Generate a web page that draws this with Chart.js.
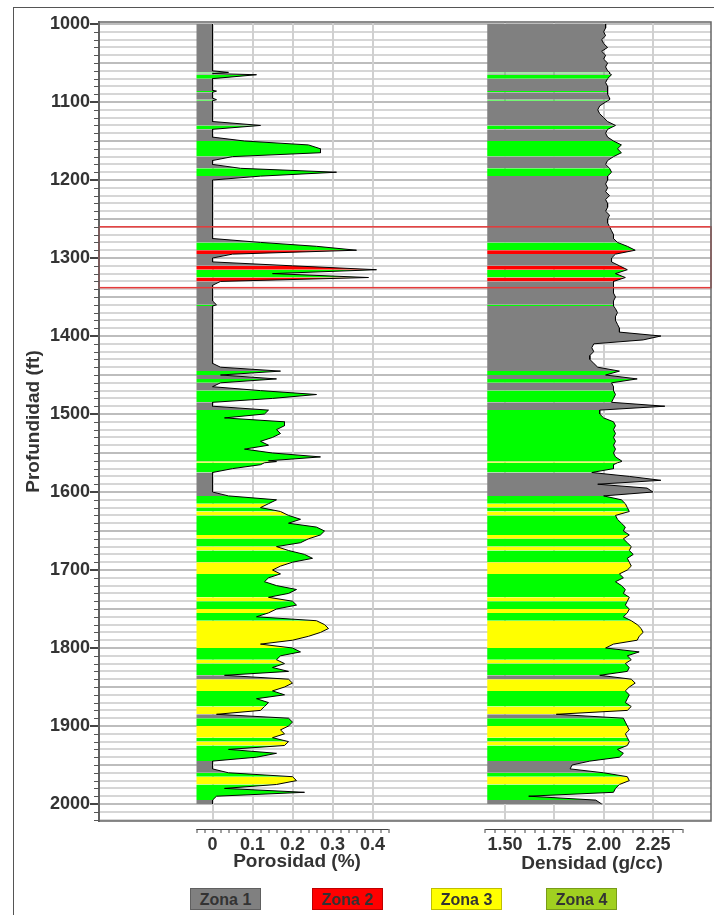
<!DOCTYPE html>
<html>
<head>
<meta charset="utf-8">
<script src="https://cdn.jsdelivr.net/npm/chart.js@4.4.1/dist/chart.umd.min.js"></script>
<style>
  body { margin: 0; background: #fff; font-family: "Liberation Sans", Arial, sans-serif; }
  #wrap { position: relative; width: 714px; height: 915px; overflow: hidden; }
  #frame { position: absolute; left: 13px; top: 7px; right: -2px; bottom: -2px; border-left: 1px solid #555; border-top: 1px solid #555; }
  canvas { position: absolute; left: 0; top: 0; }
  .ttl { position: absolute; font-weight: bold; font-size: 19px; color: #333; transform: translateX(-50%); white-space: nowrap; }
  .zona { position: absolute; top: 888px; width: 71px; height: 22px; line-height: 21px; text-align: center;
          font-weight: bold; font-size: 16px; color: #333; box-sizing: border-box; border: 1px solid rgba(0,0,0,0.25); }
</style>
</head>
<body>
<div id="wrap">
  <div id="frame"></div>
  <canvas id="logChart" width="714" height="915"></canvas>
  <div class="ttl" style="left:297px; top:850px;">Porosidad (%)</div>
  <div class="ttl" style="left:592px; top:852px;">Densidad (g/cc)</div>
  <div id="legend"></div>
</div>
<script>
// profundidad (ft), cada 5 ft y algunas capas finas
var depth = [
  1000, 1005, 1010, 1015, 1020, 1025, 1030, 1035, 1040, 1045,
  1050, 1055, 1060, 1062, 1063.5, 1065, 1070, 1075, 1080, 1085, 1086, 1087.5, 1090, 1095, 1097, 1098.5,
  1100, 1105, 1110, 1115, 1120, 1125, 1130, 1135, 1140, 1145,
  1150, 1155, 1160, 1165, 1170, 1175, 1180, 1185, 1190, 1195,
  1200, 1205, 1210, 1215, 1220, 1225, 1230, 1235, 1240, 1245,
  1250, 1255, 1260, 1265, 1270, 1275, 1280, 1285, 1290, 1295,
  1300, 1305, 1310, 1315, 1320, 1325, 1330, 1335, 1340, 1345,
  1350, 1355, 1360, 1361.5, 1365, 1370, 1375, 1380, 1385, 1390, 1395,
  1400, 1405, 1410, 1415, 1420, 1425, 1430, 1435, 1440, 1445,
  1450, 1455, 1460, 1465, 1470, 1475, 1480, 1485, 1490, 1495,
  1500, 1505, 1510, 1515, 1520, 1525, 1530, 1535, 1540, 1545,
  1550, 1555, 1560, 1561, 1562.5, 1565, 1570, 1575, 1580, 1585, 1590, 1595,
  1600, 1605, 1610, 1615, 1620, 1625, 1630, 1635, 1640, 1645,
  1650, 1655, 1660, 1665, 1670, 1675, 1680, 1685, 1690, 1695,
  1700, 1705, 1710, 1715, 1720, 1725, 1730, 1735, 1740, 1745,
  1750, 1755, 1760, 1765, 1770, 1775, 1780, 1785, 1790, 1795,
  1800, 1805, 1810, 1815, 1820, 1825, 1830, 1835, 1840, 1845,
  1850, 1855, 1860, 1865, 1870, 1875, 1880, 1885, 1890, 1895,
  1900, 1905, 1910, 1915, 1920, 1925, 1930, 1935, 1940, 1945,
  1950, 1955, 1960, 1965, 1970, 1975, 1980, 1985, 1990, 1995,
  2000
];

// zona de cada intervalo (1 a 4)
var zone = [
  1, 1, 1, 1, 1, 1, 1, 1, 1, 1,
  1, 1, 1, 4, 1, 4, 1, 1, 1, 1, 4, 1, 1, 1, 4, 1,
  1, 1, 1, 1, 1, 1, 4, 1, 1, 1,
  4, 4, 4, 4, 1, 1, 1, 4, 4, 1,
  1, 1, 1, 1, 1, 1, 1, 1, 1, 1,
  1, 1, 1, 1, 1, 1, 4, 4, 2, 1,
  1, 1, 2, 4, 4, 2, 1, 1, 1, 1,
  1, 1, 4, 1, 1, 1, 1, 1, 1, 1, 1,
  1, 1, 1, 1, 1, 1, 1, 1, 1, 4,
  1, 4, 1, 1, 4, 4, 4, 1, 1, 4,
  4, 4, 4, 4, 4, 4, 4, 4, 4, 4,
  4, 4, 4, 3, 4, 4, 4, 1, 1, 1, 1, 1,
  1, 4, 4, 3, 4, 3, 4, 4, 4, 4,
  4, 3, 4, 4, 3, 4, 4, 4, 3, 3,
  3, 4, 4, 4, 4, 4, 4, 3, 4, 4,
  3, 4, 4, 3, 3, 3, 3, 3, 3, 3,
  4, 4, 4, 3, 4, 4, 4, 1, 3, 3,
  3, 4, 4, 4, 4, 3, 3, 1, 4, 4,
  3, 3, 3, 4, 3, 4, 4, 4, 4, 1,
  1, 1, 4, 3, 3, 4, 4, 4, 4, 1,
  1
];

var porosity = [
  0, 0, 0, 0, 0, 0, 0, 0, 0, 0,
  0, 0, 0, 0.04, 0, 0.11, 0, 0, 0, 0, 0.01, 0, 0, 0, 0.01, 0,
  0, 0, 0, 0, 0, 0, 0.12, 0, 0, 0,
  0.08, 0.24, 0.27, 0.27, 0.05, 0, 0, 0.07, 0.31, 0.12,
  0, 0, 0, 0, 0, 0, 0, 0, 0, 0,
  0, 0, 0, 0, 0, 0, 0.12, 0.26, 0.36, 0.05,
  0, 0, 0.20, 0.41, 0.15, 0.39, 0.02, 0, 0, 0,
  0, 0, 0.01, 0, 0, 0, 0, 0, 0, 0, 0,
  0, 0, 0, 0, 0, 0, 0, 0, 0.02, 0.17,
  0.02, 0.16, 0.02, 0, 0.12, 0.26, 0.15, 0, 0, 0.14,
  0.13, 0.03, 0.18, 0.18, 0.16, 0.17, 0.15, 0.12, 0.14, 0.08,
  0.15, 0.27, 0.14, 0.16, 0.13, 0.12, 0.05, 0, 0, 0, 0, 0,
  0, 0.04, 0.16, 0.14, 0.12, 0.17, 0.19, 0.22, 0.19, 0.26,
  0.28, 0.27, 0.24, 0.22, 0.16, 0.19, 0.23, 0.25, 0.20, 0.17,
  0.15, 0.17, 0.14, 0.13, 0.16, 0.21, 0.19, 0.14, 0.20, 0.21,
  0.16, 0.14, 0.11, 0.26, 0.28, 0.29, 0.27, 0.24, 0.20, 0.12,
  0.20, 0.22, 0.17, 0.16, 0.18, 0.15, 0.19, 0.03, 0.19, 0.20,
  0.18, 0.15, 0.18, 0.11, 0.14, 0.13, 0.12, 0.01, 0.19, 0.20,
  0.19, 0.17, 0.18, 0.15, 0.19, 0.18, 0.04, 0.16, 0.11, 0,
  0, 0, 0.04, 0.20, 0.21, 0.16, 0.03, 0.23, 0.01, 0,
  0
];

var density = [
  2.01, 2.01, 2.00, 2.01, 1.99, 2.00, 2.02, 1.99, 2.01, 2.00,
  2.02, 2.01, 2.02, 2.03, 2.03, 2.04, 2.02, 2.01, 2.02, 2.02, 2.02, 2.02, 2.02, 2.03, 2.03, 2.02,
  2.01, 1.98, 1.97, 1.98, 2.00, 2.02, 2.06, 2.02, 2.01, 2.02,
  2.05, 2.09, 2.07, 2.09, 2.05, 2.02, 2.01, 2.03, 2.04, 2.02,
  2.02, 2.01, 2.02, 2.01, 2.03, 2.01, 2.02, 2.02, 2.01, 2.03,
  2.02, 2.02, 2.03, 2.04, 2.05, 2.05, 2.07, 2.12, 2.16, 2.06,
  2.04, 2.04, 2.08, 2.12, 2.06, 2.11, 2.05, 2.05, 2.05, 2.05,
  2.06, 2.05, 2.05, 2.05, 2.06, 2.07, 2.06, 2.06, 2.07, 2.08, 2.08,
  2.29, 2.20, 1.95, 1.94, 1.95, 1.93, 1.93, 1.95, 1.97, 2.08,
  2.01, 2.17, 2.04, 2.05, 2.05, 2.06, 2.05, 2.04, 2.31, 1.98,
  1.98, 2.00, 2.05, 2.06, 2.05, 2.06, 2.05, 2.06, 2.05, 2.06,
  2.05, 2.06, 2.09, 2.09, 2.07, 2.05, 2.05, 1.94, 2.13, 2.29, 1.97, 2.22,
  2.25, 2.00, 2.09, 2.11, 2.12, 2.13, 2.06, 2.07, 2.09, 2.11,
  2.10, 2.13, 2.10, 2.12, 2.14, 2.13, 2.15, 2.12, 2.13, 2.14,
  2.12, 2.08, 2.10, 2.06, 2.09, 2.11, 2.10, 2.13, 2.12, 2.11,
  2.13, 2.12, 2.10, 2.14, 2.17, 2.19, 2.20, 2.18, 2.17, 2.05,
  2.01, 2.18, 2.12, 2.14, 2.11, 2.13, 2.12, 1.98, 2.14, 2.16,
  2.13, 2.11, 2.13, 2.12, 2.11, 2.14, 2.12, 1.76, 2.10, 2.11,
  2.12, 2.13, 2.11, 2.12, 2.13, 2.12, 2.07, 2.10, 2.08, 1.93,
  1.84, 1.83, 2.00, 2.12, 2.13, 2.08, 2.06, 2.05, 1.62, 1.96,
  1.99
];

var depthLabels = [1000, 1100, 1200, 1300, 1400, 1500, 1600, 1700, 1800, 1900, 2000];
var porLabels = [0, 0.1, 0.2, 0.3, 0.4];
var denLabels = [1.50, 1.75, 2.00, 2.25];
var porAxis = [-0.04, 0.44];   // extremos de la pista de porosidad
var denAxis = [1.40, 2.40];    // extremos de la pista de densidad
var focusBox = [1260, 1338];   // recuadro rojo (ft)

var zoneNames = ['Zona 1', 'Zona 2', 'Zona 3', 'Zona 4'];
var zoneFill = ['#808080', '#ff0000', '#ffff00', '#00ff00'];
var zoneLegend = ['#808080', '#ff0000', '#ffff00', '#a0d020'];

var FONT = '"Liberation Sans", Arial, sans-serif';
var near = function (list, v) { return list.some(function (p) { return Math.abs(p - v) < 1e-6; }); };

// leyenda
var legendLeft = [190, 312, 431, 546];
var legend = document.getElementById('legend');
zoneNames.forEach(function (n, i) {
  var d = document.createElement('div');
  d.className = 'zona';
  d.style.left = legendLeft[i] + 'px';
  d.style.background = zoneLegend[i];
  d.textContent = n;
  legend.appendChild(d);
});

var trackPlugin = {
  id: 'tracks',
  afterDatasetsDraw: function (chart) {
    var ctx = chart.ctx, a = chart.chartArea, y = chart.scales.y;
    ctx.save();
    ctx.strokeStyle = '#e53a3a';
    ctx.lineWidth = 1.5;
    var y0 = y.getPixelForValue(focusBox[0]), y1 = y.getPixelForValue(focusBox[1]);
    ctx.strokeRect(a.left, y0, a.right - a.left, y1 - y0);
    ctx.restore();
  },
  afterDraw: function (chart) {
    var ctx = chart.ctx, a = chart.chartArea, y = chart.scales.y;
    var xp = chart.scales.xp, xd = chart.scales.xd;
    ctx.save();
    // marco del área
    ctx.strokeStyle = '#666';
    ctx.lineWidth = 1.5;
    ctx.strokeRect(a.left, a.top, a.right - a.left, a.bottom - a.top);
    // marcas menores de profundidad
    ctx.strokeStyle = '#555';
    ctx.lineWidth = 1;
    y.ticks.forEach(function (t) {
      if (t.value % 100 === 0) return;
      var py = Math.round(y.getPixelForValue(t.value)) + 0.5;
      ctx.beginPath();
      ctx.moveTo(a.left - 5, py);
      ctx.lineTo(a.left, py);
      ctx.stroke();
    });
    // líneas de eje de cada pista
    var ay = Math.round(y.getPixelForValue(2032)) + 0.5;
    ctx.strokeStyle = '#444';
    ctx.beginPath();
    ctx.moveTo(xp.getPixelForValue(porAxis[0]), ay);
    ctx.lineTo(xp.getPixelForValue(porAxis[1]), ay);
    ctx.moveTo(xd.getPixelForValue(denAxis[0]), ay);
    ctx.lineTo(xd.getPixelForValue(denAxis[1]), ay);
    ctx.stroke();
    ctx.restore();
  }
};

var Logctx = document.getElementById('logChart').getContext('2d');
var logChart = new Chart(Logctx, {
  type: 'line',
  data: {
    datasets: [{
      label: 'Porosidad',
      xAxisID: 'xp',
      yAxisID: 'y',
      data: depth.map(function (d, i) { return { x: porosity[i], y: d }; }),
      borderColor: '#000',
      borderWidth: 1,
      backgroundColor: zoneFill[0],
      fill: { value: porAxis[0] },
      pointRadius: 0,
      tension: 0,
      segment: { backgroundColor: function (c) { return zoneFill[zone[c.p0DataIndex] - 1]; } }
    }, {
      label: 'Densidad',
      xAxisID: 'xd',
      yAxisID: 'y',
      data: depth.map(function (d, i) { return { x: density[i], y: d }; }),
      borderColor: '#000',
      borderWidth: 1,
      backgroundColor: zoneFill[0],
      fill: { value: 1.41 },
      pointRadius: 0,
      tension: 0,
      segment: { backgroundColor: function (c) { return zoneFill[zone[c.p0DataIndex] - 1]; } }
    }]
  },
  options: {
    responsive: false,
    animation: false,
    devicePixelRatio: 1,
    indexAxis: 'y',
    layout: { padding: { left: 13, top: 22, right: 3, bottom: 94 } },
    plugins: { legend: { display: false }, tooltip: { enabled: false } },
    scales: {
      y: {
        type: 'linear',
        position: 'left',
        reverse: true,
        min: 997.4,
        max: 2021.8,
        afterFit: function (s) { s.width = 86; },
        afterBuildTicks: function (s) {
          var t = [];
          for (var v = 1000; v <= 2020; v += 10) t.push({ value: v });
          s.ticks = t;
        },
        ticks: {
          autoSkip: false,
          padding: 0,
          color: '#333',
          font: { family: FONT, size: 18, weight: 'bold' },
          callback: function (v) { return depthLabels.indexOf(v) >= 0 ? String(v) : ''; }
        },
        grid: {
          color: function (c) { return c.tick && c.tick.value % 50 === 0 ? '#bdbdbd' : '#d6d6d6'; },
          lineWidth: 2,
          tickLength: 9,
          tickWidth: 2,
          tickColor: function (c) { return c.tick && c.tick.value % 100 === 0 ? '#444' : 'rgba(0,0,0,0)'; }
        },
        border: { color: '#555', width: 2 },
        title: {
          display: true,
          text: 'Profundidad (ft)',
          color: '#333',
          font: { family: FONT, size: 19, weight: 'bold' },
          padding: { top: 9, bottom: 0 }
        }
      },
      xp: {
        type: 'linear',
        axis: 'x',
        position: { y: 2032 },
        min: -0.28375,
        max: 1.24625,
        afterBuildTicks: function (s) {
          var t = [];
          for (var i = -2; i <= 22; i++) t.push({ value: i / 50 });
          s.ticks = t;
        },
        ticks: {
          autoSkip: false,
          maxRotation: 0,
          padding: 1,
          color: '#333',
          font: { family: FONT, size: 18, weight: 'bold' },
          callback: function (v) { return near(porLabels, v) ? (Math.abs(v) < 1e-6 ? '0' : v.toFixed(1)) : ''; }
        },
        grid: {
          color: function (c) { return c.tick && near(porLabels, c.tick.value) ? '#d0d0d0' : 'rgba(0,0,0,0)'; },
          lineWidth: 2,
          tickLength: 4,
          tickWidth: 1,
          tickColor: '#444'
        },
        border: { display: false }
      },
      xd: {
        type: 'linear',
        axis: 'x',
        position: { y: 2032 },
        min: -0.5578,
        max: 2.5441,
        afterBuildTicks: function (s) {
          var t = [];
          for (var i = 28; i <= 48; i++) t.push({ value: i / 20 });
          s.ticks = t;
        },
        ticks: {
          autoSkip: false,
          maxRotation: 0,
          padding: 1,
          color: '#333',
          font: { family: FONT, size: 18, weight: 'bold' },
          callback: function (v) { return near(denLabels, v) ? v.toFixed(2) : ''; }
        },
        grid: {
          color: function (c) { return c.tick && near(denLabels, c.tick.value) ? '#d0d0d0' : 'rgba(0,0,0,0)'; },
          lineWidth: 2,
          tickLength: 4,
          tickWidth: 1,
          tickColor: '#444'
        },
        border: { display: false }
      }
    }
  },
  plugins: [trackPlugin]
});
</script>
</body>
</html>
